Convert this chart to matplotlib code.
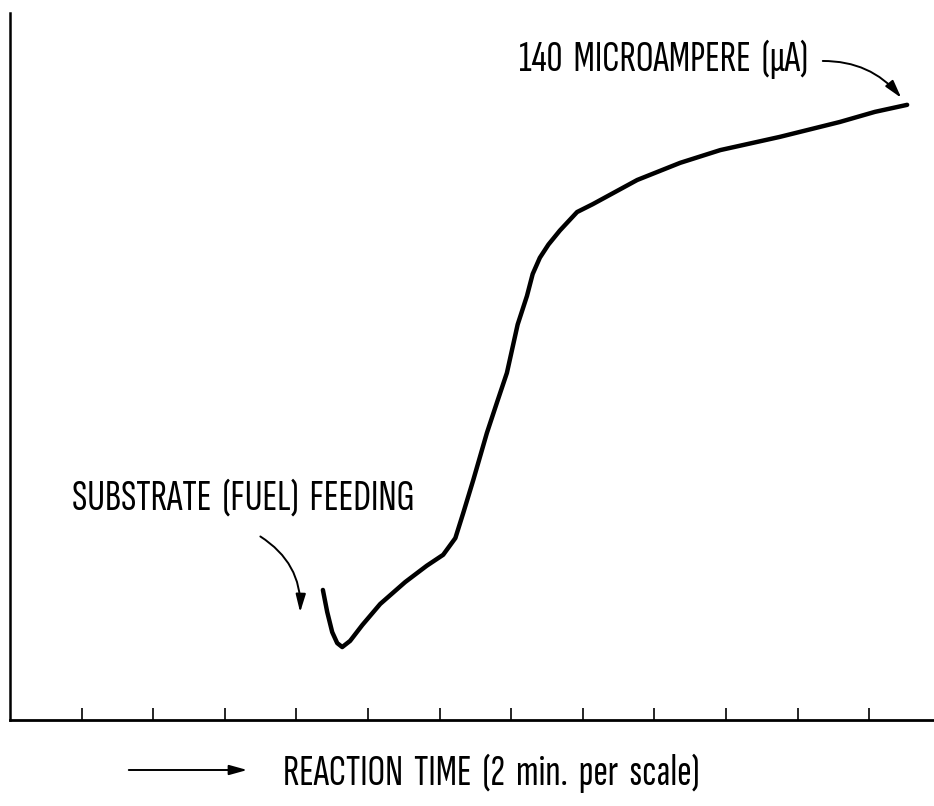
import matplotlib
matplotlib.use('Agg')
import matplotlib.pyplot as plt
from matplotlib import font_manager
from matplotlib.patches import FancyArrowPatch

W, H = 934, 806

# 좁은 글꼴 중 설치된 첫 번째 사용
names = {f.name for f in font_manager.fontManager.ttflist}
FAMILY = 'DejaVu Sans'
for cand in ['Sofia Sans Extra Condensed', 'Sofia Sans Condensed', 'Roboto Condensed',
             'Liberation Sans Narrow']:
    if cand in names:
        FAMILY = cand
        break
FAMILIES = [FAMILY, 'DejaVu Sans']

# ---------------------------------------------------------------
# data (x: scale units of 2 min, y: microampere)
# ---------------------------------------------------------------
time_scale = [4.37, 4.43, 4.50, 4.57, 4.64, 4.75, 4.92, 5.17, 5.52, 5.82,
              6.05, 6.22, 6.33, 6.47, 6.66, 6.80, 6.94, 7.09, 7.22, 7.30,
              7.40, 7.52, 7.68, 7.92, 8.14, 8.76, 9.36, 9.92, 10.75, 11.59, 12.08, 12.53]
current_ua = [29.6, 24.6, 20.0, 17.5, 16.6, 18.0, 21.6, 26.4, 31.4, 35.1,
              37.6, 41.4, 47.1, 54.6, 65.3, 72.2, 79.0, 90.0, 96.5, 101.5,
              105.2, 108.2, 111.4, 115.6, 117.4, 122.9, 126.8, 129.7, 132.7, 136.1, 138.4, 140.0]
tick_pos = list(range(1, 13))

label_top = '140  MICROAMPERE  (μA)'
label_feed = 'SUBSTRATE  (FUEL)  FEEDING'
label_x = 'REACTION  TIME  (2  min.  per  scale)'


def px(x, y):
    # pixel (from top-left) -> figure fraction
    return (x / W, 1 - y / H)


fig = plt.figure(figsize=(W / 100, H / 100), dpi=100)
ax = fig.add_axes([10 / W, 1 - 720 / H, 924 / W, 707 / H])

ax.plot(time_scale, current_ua, color='black', lw=3.2,
        solid_capstyle='round', solid_joinstyle='round')

ax.set_xlim(0, 12.905)
ax.set_ylim(0, 160.9)
ax.set_xticks(tick_pos)
ax.set_xticklabels([])
ax.set_yticks([])
ax.tick_params(axis='x', direction='in', length=9, width=1.2, color='black')
for s in ['top', 'right']:
    ax.spines[s].set_visible(False)
ax.spines['left'].set_linewidth(1.8)
ax.spines['bottom'].set_linewidth(2.0)

# 텍스트 (각 라벨 폭에 맞춰 글자 크기 조정)
fig.canvas.draw()
renderer = fig.canvas.get_renderer()
for s, x0, yc, width in [(label_top, 519, 59, 291),
                         (label_feed, 72, 498, 346),
                         (label_x, 283, 773, 417)]:
    t = fig.text(*px(x0, yc), s, fontsize=20, va='center', ha='left', family=FAMILIES)
    t.set_fontsize(20 * width / t.get_window_extent(renderer).width)

# 화살표
arrow_kw = dict(arrowstyle='-|>,head_length=0.9,head_width=0.25', color='black', lw=1.4)
fig.add_artist(FancyArrowPatch(
    px(820, 61), px(903, 100), transform=fig.transFigure,
    connectionstyle='arc3,rad=-0.25', mutation_scale=12, **arrow_kw))
fig.add_artist(FancyArrowPatch(
    px(258, 535), px(300, 615), transform=fig.transFigure,
    connectionstyle='arc3,rad=-0.3', mutation_scale=12, **arrow_kw))
fig.add_artist(FancyArrowPatch(
    px(126, 770), px(250, 770), transform=fig.transFigure,
    mutation_scale=12, **arrow_kw))

plt.savefig('out.png', dpi=100)
